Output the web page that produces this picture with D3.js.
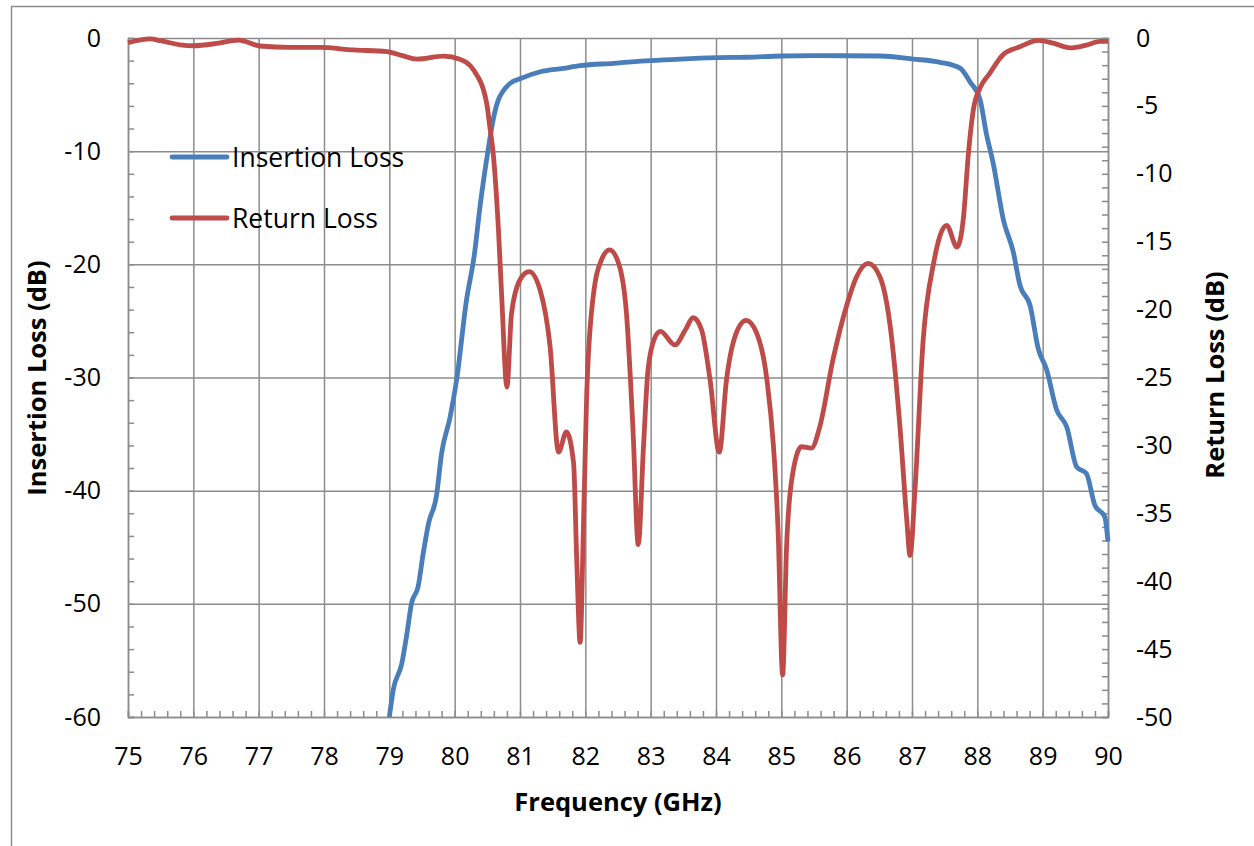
<!DOCTYPE html>
<html>
<head>
<meta charset="utf-8">
<script src="https://cdn.jsdelivr.net/npm/d3@7"></script>
<style>
  body { margin: 0; background: #fff; }
  svg text { font-family: "Open Sans", sans-serif; fill: #000; }
  .domain { stroke: #8c8c8c; stroke-width: 1.5; }
  .tick line { stroke: #8c8c8c; stroke-width: 1.5; }
</style>
</head>
<body>
<div class="canvas"></div>
<script>
// Frequency (GHz) and insertion loss (dB, left axis)
const ilFreq = [79.0, 79.06, 79.19, 79.27, 79.34, 79.44, 79.52, 79.6, 79.72, 79.8, 79.93, 80.03,
  80.18, 80.3, 80.39, 80.52, 80.59, 80.66, 80.74, 80.85, 81.0, 81.31, 81.66, 81.92, 82.43,
  82.99, 83.45, 84.01, 84.47, 85.01, 85.49, 86.0, 86.51, 87.02, 87.43, 87.74, 87.89, 88.04,
  88.14, 88.24, 88.4, 88.55, 88.65, 88.81, 88.93, 89.06, 89.21, 89.37, 89.52, 89.67, 89.8,
  89.95, 90.0];
const ilValues = [-60, -57.6, -55.3, -52.6, -49.95, -48.5, -45.5, -42.9, -40.5, -36.7, -33.5, -30.2,
  -23.2, -19.2, -14.8, -9.6, -7.2, -5.6, -4.7, -4.0, -3.6, -2.98, -2.68, -2.44, -2.24,
  -2.0, -1.86, -1.74, -1.7, -1.59, -1.56, -1.57, -1.59, -1.86, -2.15, -2.68, -3.9, -5.4,
  -8.5, -11.0, -16.1, -18.9, -21.8, -23.7, -27.4, -29.3, -32.8, -34.4, -37.9, -38.5, -41.3,
  -42.3, -44.5];

// Frequency (GHz) and return loss (dB, right axis)
const rlFreq = [75.0, 75.34, 75.5, 75.8, 76.0, 76.36, 76.69, 77.02, 77.48, 77.94, 78.45, 78.96,
  79.2, 79.42, 79.83, 80.08, 80.29, 80.49, 80.54, 80.59, 80.67, 80.72, 80.8, 80.87, 81.0,
  81.14, 81.31, 81.46, 81.59, 81.71, 81.82, 81.87, 81.92, 81.97, 82.02, 82.12, 82.25, 82.37,
  82.51, 82.63, 82.73, 82.81, 82.89, 82.96, 83.07, 83.15, 83.37, 83.53, 83.65, 83.78, 83.91,
  84.05, 84.16, 84.29, 84.46, 84.62, 84.78, 84.88, 84.95, 85.02, 85.08, 85.16, 85.31, 85.46,
  85.59, 85.79, 86.0, 86.15, 86.33, 86.51, 86.66, 86.82, 86.92, 86.97, 87.05, 87.17, 87.33,
  87.53, 87.69, 87.79, 87.86, 87.94, 88.04, 88.19, 88.4, 88.65, 88.93, 89.16, 89.42, 89.67,
  89.88, 90.0];
const rlValues = [-0.35, -0.07, -0.2, -0.5, -0.57, -0.4, -0.15, -0.59, -0.69, -0.69, -0.88, -1.0,
  -1.3, -1.55, -1.33, -1.57, -2.36, -4.8, -6.6, -8.5, -14.1, -19.05, -25.7, -20.3, -17.8,
  -17.2, -18.6, -22.7, -30.5, -29.0, -31.3, -38.7, -44.5, -36.2, -26.4, -19.05, -16.3, -15.6,
  -16.6, -20.3, -28.9, -37.3, -30.1, -24.4, -22.0, -21.6, -22.6, -21.5, -20.6, -21.5, -25.2,
  -30.5, -25.2, -22.0, -20.8, -21.7, -25.2, -30.1, -36.2, -46.9, -37.5, -32.5, -30.1, -30.2,
  -28.6, -23.7, -19.7, -17.6, -16.6, -17.6, -21.0, -28.9, -35.5, -38.1, -32.9, -22.3, -16.6,
  -13.8, -15.4, -13.1, -8.7, -5.25, -3.7, -2.6, -1.2, -0.65, -0.18, -0.38, -0.73, -0.52,
  -0.25, -0.25];

// Axis ticks
const freqTicks = [75, 76, 77, 78, 79, 80, 81, 82, 83, 84, 85, 86, 87, 88, 89, 90];
const ilTicks = [0, -10, -20, -30, -40, -50, -60];
const rlTicks = [0, -5, -10, -15, -20, -25, -30, -35, -40, -45, -50];

const seriesNames = ["Insertion Loss", "Return Loss"];
const seriesColors = ["#4a7ebb", "#be4b48"];

const width = 1254;
const height = 846;
const margin = { top: 38, right: 146, bottom: 129, left: 128 };
const graphWidth = width - margin.left - margin.right;
const graphHeight = height - margin.top - margin.bottom;

const svg = d3
  .select(".canvas")
  .append("svg")
  .attr("width", width)
  .attr("height", height);

// outer chart frame
svg
  .append("rect")
  .attr("x", 11.5)
  .attr("y", 6.5)
  .attr("width", width)
  .attr("height", height)
  .attr("fill", "none")
  .attr("stroke", "#8c8c8c")
  .attr("stroke-width", 1.5);

const graph = svg
  .append("g")
  .attr("transform", `translate(${margin.left}, ${margin.top})`);

const x = d3.scaleLinear().domain([75, 90]).range([0, graphWidth]);
const yL = d3.scaleLinear().domain([-60, 0]).range([graphHeight, 0]);
const yR = d3.scaleLinear().domain([-50, 0]).range([graphHeight, 0]);

// gridlines
graph
  .append("g")
  .attr("class", "grid")
  .attr("transform", `translate(0, ${graphHeight})`)
  .call(d3.axisBottom(x).tickValues(freqTicks).tickSize(-graphHeight).tickFormat(""))
  .call(g => g.select(".domain").remove());
graph
  .append("g")
  .attr("class", "grid")
  .call(d3.axisLeft(yL).tickValues(ilTicks).tickSize(-graphWidth).tickFormat(""))
  .call(g => g.select(".domain").remove());

// minor ticks (inside)
const minorX = d3.range(75, 90.001, 0.2);
const minorL = d3.range(-60, 0.001, 2);
const minorR = d3.range(-50, 0.001, 1);
graph
  .append("g")
  .attr("transform", `translate(0, ${graphHeight})`)
  .call(d3.axisBottom(x).tickValues(minorX).tickSize(-6).tickFormat(""));
graph
  .append("g")
  .call(d3.axisLeft(yL).tickValues(minorL).tickSize(-6).tickFormat(""));
graph
  .append("g")
  .attr("transform", `translate(${graphWidth}, 0)`)
  .call(d3.axisRight(yR).tickValues(minorR).tickSize(-6).tickFormat(""));

// tick labels
const xAxisGroup = graph
  .append("g")
  .attr("transform", `translate(0, ${graphHeight})`)
  .call(d3.axisBottom(x).tickValues(freqTicks).tickSize(0).tickPadding(30).tickFormat(d => d));
const yAxisGroup = graph
  .append("g")
  .call(d3.axisLeft(yL).tickValues(ilTicks).tickSize(0).tickPadding(27).tickFormat(d => d));
const yAxisRightGroup = graph
  .append("g")
  .attr("transform", `translate(${graphWidth}, 0)`)
  .call(d3.axisRight(yR).tickValues(rlTicks).tickSize(0).tickPadding(28).tickFormat(d => d));

[xAxisGroup, yAxisGroup, yAxisRightGroup].forEach(g => {
  g.select(".domain").remove();
  g.selectAll("text")
    .style("font-size", "25px")
    .style("font-family", "'Open Sans', sans-serif")
    .attr("fill", "#000");
});

// lines
const lineL = d3
  .line()
  .x((d, i) => x(ilFreq[i]))
  .y(d => yL(d))
  .curve(d3.curveMonotoneX);
const lineR = d3
  .line()
  .x((d, i) => x(rlFreq[i]))
  .y(d => yR(d))
  .curve(d3.curveMonotoneX);

graph
  .append("path")
  .attr("d", lineL(ilValues))
  .attr("fill", "none")
  .attr("stroke", seriesColors[0])
  .attr("stroke-width", 4.8)
  .attr("stroke-linejoin", "round");
graph
  .append("path")
  .attr("d", lineR(rlValues))
  .attr("fill", "none")
  .attr("stroke", seriesColors[1])
  .attr("stroke-width", 4.8)
  .attr("stroke-linejoin", "round");

// legend
const legend = graph
  .selectAll(".legend")
  .data(seriesNames)
  .enter()
  .append("g")
  .attr("transform", (d, i) => `translate(44, ${119 + i * 61})`);
legend
  .append("line")
  .attr("x1", 0)
  .attr("x2", 55)
  .attr("stroke", (d, i) => seriesColors[i])
  .attr("stroke-width", 4.8)
  .attr("stroke-linecap", "round");
legend
  .append("text")
  .attr("x", 60)
  .attr("dy", "0.36em")
  .style("font-size", "26.5px")
  .text(d => d);

// axis titles
svg
  .append("text")
  .attr("x", margin.left + graphWidth / 2)
  .attr("y", 811)
  .attr("text-anchor", "middle")
  .style("font-size", "25.5px")
  .style("font-weight", "bold")
  .text("Frequency (GHz)");
svg
  .append("text")
  .attr("transform", "translate(46, 378) rotate(-90)")
  .attr("text-anchor", "middle")
  .style("font-size", "25.5px")
  .style("font-weight", "bold")
  .text("Insertion Loss (dB)");
svg
  .append("text")
  .attr("transform", "translate(1224, 375) rotate(-90)")
  .attr("text-anchor", "middle")
  .style("font-size", "25.5px")
  .style("font-weight", "bold")
  .text("Return Loss (dB)");
</script>
</body>
</html>
